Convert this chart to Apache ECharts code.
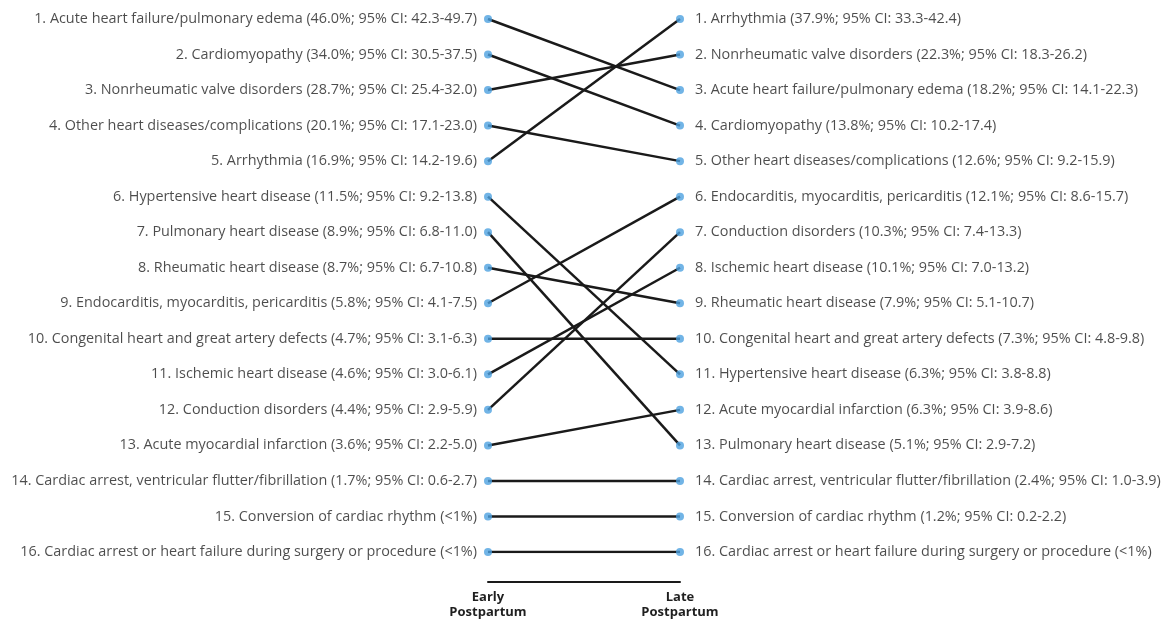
<!DOCTYPE html>
<html><head><meta charset="utf-8">
<script src="https://cdn.jsdelivr.net/npm/echarts@6/dist/echarts.min.js"></script>
<style>html,body{margin:0;padding:0;background:#fff}#c{width:1171px;height:624px}</style>
</head><body><div id="c"></div>
<script>
var leftLabels = [
 "1. Acute heart failure/pulmonary edema (46.0%; 95% CI: 42.3-49.7)",
 "2. Cardiomyopathy (34.0%; 95% CI: 30.5-37.5)",
 "3. Nonrheumatic valve disorders (28.7%; 95% CI: 25.4-32.0)",
 "4. Other heart diseases/complications (20.1%; 95% CI: 17.1-23.0)",
 "5. Arrhythmia (16.9%; 95% CI: 14.2-19.6)",
 "6. Hypertensive heart disease (11.5%; 95% CI: 9.2-13.8)",
 "7. Pulmonary heart disease (8.9%; 95% CI: 6.8-11.0)",
 "8. Rheumatic heart disease (8.7%; 95% CI: 6.7-10.8)",
 "9. Endocarditis, myocarditis, pericarditis (5.8%; 95% CI: 4.1-7.5)",
 "10. Congenital heart and great artery defects (4.7%; 95% CI: 3.1-6.3)",
 "11. Ischemic heart disease (4.6%; 95% CI: 3.0-6.1)",
 "12. Conduction disorders (4.4%; 95% CI: 2.9-5.9)",
 "13. Acute myocardial infarction (3.6%; 95% CI: 2.2-5.0)",
 "14. Cardiac arrest, ventricular flutter/fibrillation (1.7%; 95% CI: 0.6-2.7)",
 "15. Conversion of cardiac rhythm (<1%)",
 "16. Cardiac arrest or heart failure during surgery or procedure (<1%)"
];
var rightLabels = [
 "1. Arrhythmia (37.9%; 95% CI: 33.3-42.4)",
 "2. Nonrheumatic valve disorders (22.3%; 95% CI: 18.3-26.2)",
 "3. Acute heart failure/pulmonary edema (18.2%; 95% CI: 14.1-22.3)",
 "4. Cardiomyopathy (13.8%; 95% CI: 10.2-17.4)",
 "5. Other heart diseases/complications (12.6%; 95% CI: 9.2-15.9)",
 "6. Endocarditis, myocarditis, pericarditis (12.1%; 95% CI: 8.6-15.7)",
 "7. Conduction disorders (10.3%; 95% CI: 7.4-13.3)",
 "8. Ischemic heart disease (10.1%; 95% CI: 7.0-13.2)",
 "9. Rheumatic heart disease (7.9%; 95% CI: 5.1-10.7)",
 "10. Congenital heart and great artery defects (7.3%; 95% CI: 4.8-9.8)",
 "11. Hypertensive heart disease (6.3%; 95% CI: 3.8-8.8)",
 "12. Acute myocardial infarction (6.3%; 95% CI: 3.9-8.6)",
 "13. Pulmonary heart disease (5.1%; 95% CI: 2.9-7.2)",
 "14. Cardiac arrest, ventricular flutter/fibrillation (2.4%; 95% CI: 1.0-3.9)",
 "15. Conversion of cardiac rhythm (1.2%; 95% CI: 0.2-2.2)",
 "16. Cardiac arrest or heart failure during surgery or procedure (<1%)"
];
// rank in late postpartum for each early-postpartum item (in left order)
var lateRankOfEarly = [3, 4, 2, 5, 1, 11, 13, 9, 6, 10, 8, 7, 12, 14, 15, 16];
var periodLabels = ["Early\nPostpartum", "Late\nPostpartum"];

var FONT = "Open Sans";
var series = [];
lateRankOfEarly.forEach(function (r, i) {
  series.push({
    type: 'line', data: [[0, i + 1], [1, r]], symbol: 'none', silent: true,
    lineStyle: { color: '#1a1a1a', width: 2.5 }, z: 2
  });
});
series.push({
  type: 'scatter', symbolSize: 8, itemStyle: { color: '#4ea1e0' }, z: 5,
  data: leftLabels.map(function (t, i) { return { value: [0, i + 1], name: t }; }),
  label: { show: true, position: 'left', distance: 7, formatter: '{b}',
    color: '#1f1f1f', fontSize: 14.4, fontFamily: FONT }
});
series.push({
  type: 'scatter', symbolSize: 8, itemStyle: { color: '#4ea1e0' }, z: 5,
  data: rightLabels.map(function (t, i) { return { value: [1, i + 1], name: t }; }),
  label: { show: true, position: 'right', distance: 11, formatter: '{b}',
    color: '#1f1f1f', fontSize: 14.4, fontFamily: FONT }
});

var chart = echarts.init(document.getElementById('c'));
chart.setOption({
  animation: false,
  grid: { left: 488, right: 491, top: 19, bottom: 72, containLabel: false },
  xAxis: {
    type: 'value', min: 0, max: 1, interval: 1, offset: 30,
    splitLine: { show: false }, axisTick: { show: false },
    axisLine: { show: true, lineStyle: { color: '#1a1a1a', width: 2 } },
    axisLabel: { show: true, margin: 8, color: '#1f1f1f', fontSize: 13, fontWeight: 'bold',
      fontFamily: FONT, lineHeight: 15,
      formatter: function (v) { return v === 0 ? periodLabels[0] : (v === 1 ? periodLabels[1] : ''); } }
  },
  yAxis: {
    type: 'value', min: 1, max: 16, inverse: true, show: false
  },
  series: series
});
</script></body></html>
